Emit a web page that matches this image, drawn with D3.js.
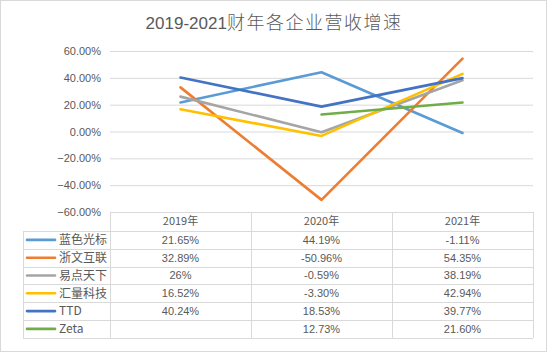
<!DOCTYPE html>
<html><head><meta charset="utf-8">
<script src="https://cdn.jsdelivr.net/npm/d3@7"></script>
<style>
html,body{margin:0;padding:0;background:#fff;}
svg{display:block;font-family:"Noto Sans CJK SC","Liberation Sans",sans-serif;}
</style></head>
<body><svg id="c" width="549" height="355"></svg>
<script>
const titleNum = "2019-2021";
const titleCjk = "财年各企业营收增速";
const categories = ["2019年","2020年","2021年"];
const seriesNames = ["蓝色光标","浙文互联","易点天下","汇量科技","TTD","Zeta"];
const seriesColors = ["#5B9BD5","#ED7D31","#A5A5A5","#FFC000","#4472C4","#70AD47"];
const lanse = [21.65, 44.19, -1.11];
const zhewen = [32.89, -50.96, 54.35];
const yidian = [26, -0.59, 38.19];
const huiliang = [16.52, -3.30, 42.94];
const ttd = [40.24, 18.53, 39.77];
const zeta = [null, 12.73, 21.60];
const tableLabels = [
  ["21.65%","44.19%","-1.11%"],
  ["32.89%","-50.96%","54.35%"],
  ["26%","-0.59%","38.19%"],
  ["16.52%","-3.30%","42.94%"],
  ["40.24%","18.53%","39.77%"],
  ["","12.73%","21.60%"]
];
const yTicks = [-60,-40,-20,0,20,40,60];

const seriesValues = [lanse, zhewen, yidian, huiliang, ttd, zeta];
const svg = d3.select("#c");
const textColor = "#595959", gridColor = "#d9d9d9";

// outer border
svg.append("rect").attr("x",0.5).attr("y",0.5).attr("width",546).attr("height",351)
  .attr("fill","#fff").attr("stroke",gridColor);

// title
const t = svg.append("text").attr("x",274).attr("y",28.5).attr("text-anchor","middle")
  .attr("fill",textColor);
t.append("tspan").attr("font-size","17px").attr("font-family","Liberation Sans, sans-serif").text(titleNum);
t.append("tspan").attr("font-size","18px").attr("font-weight","300").attr("letter-spacing","1.5px").text(titleCjk);

const x = d3.scaleBand().domain(categories).range([110,533]);
const y = d3.scaleLinear().domain([-60,60]).range([212,51]);

// y axis with gridlines
const ax = svg.append("g").attr("transform","translate(110,0)")
  .call(d3.axisLeft(y).tickValues(yTicks).tickFormat(d => d3.format(".2f")(d) + "%")
    .tickSizeInner(-423).tickSizeOuter(0).tickPadding(9));
ax.select(".domain").remove();
ax.selectAll(".tick line").attr("stroke",gridColor).attr("stroke-width",1);
ax.selectAll(".tick text").attr("fill",textColor).attr("font-size","11px")
  .attr("font-family","Liberation Sans, sans-serif");

// lines
const cx = c => x(c) + x.bandwidth()/2;
const line = d3.line().defined(d => d.v !== null).x(d => cx(d.c)).y(d => y(d.v));
seriesValues.forEach((vals,i) => {
  svg.append("path")
    .datum(vals.map((v,j) => ({c:categories[j], v:v})))
    .attr("d", line).attr("fill","none").attr("stroke",seriesColors[i])
    .attr("stroke-width",2.6).attr("stroke-linejoin","round").attr("stroke-linecap","round");
});

// data table
const tblTop = 212, headH = 19, rowH = 17.8, legLeft = 23;
const g = svg.append("g");
const nRows = seriesNames.length;
const tblBottom = tblTop + headH + rowH*nRows;
g.append("line").attr("x1",110).attr("x2",533).attr("y1",tblTop+0.5).attr("y2",tblTop+0.5).attr("stroke",gridColor);
for (let r=0; r<=nRows; r++){
  const yy = Math.round(tblTop + headH + rowH*r) + 0.5;
  g.append("line").attr("x1",legLeft).attr("x2",533).attr("y1",yy).attr("y2",yy).attr("stroke",gridColor);
}
g.append("line").attr("x1",legLeft+0.5).attr("x2",legLeft+0.5).attr("y1",tblTop+headH).attr("y2",tblBottom).attr("stroke",gridColor);
const colEdges = [110].concat(categories.map(c => x(c)+x.bandwidth()));
colEdges.forEach(xx => {
  g.append("line").attr("x1",Math.round(xx)+0.5).attr("x2",Math.round(xx)+0.5)
    .attr("y1",tblTop).attr("y2",tblBottom).attr("stroke",gridColor);
});
categories.forEach(c => {
  g.append("text").attr("x",cx(c)).attr("y",tblTop+headH/2).attr("dy","0.35em")
    .attr("text-anchor","middle").attr("font-size","11px").attr("fill",textColor).text(c);
});
seriesNames.forEach((name,i) => {
  const ym = tblTop + headH + rowH*i + rowH/2;
  g.append("line").attr("x1",27).attr("x2",55).attr("y1",ym).attr("y2",ym)
    .attr("stroke",seriesColors[i]).attr("stroke-width",2.6).attr("stroke-linecap","round");
  g.append("text").attr("x",59).attr("y",ym).attr("dy","0.35em").attr("font-size","12px")
    .attr("fill",textColor).text(name);
  categories.forEach((c,j) => {
    g.append("text").attr("x",cx(c)).attr("y",ym).attr("dy","0.35em").attr("text-anchor","middle")
      .attr("font-size","11px").attr("font-family","Liberation Sans, sans-serif")
      .attr("fill",textColor).text(tableLabels[i][j]);
  });
});
</script></body></html>
